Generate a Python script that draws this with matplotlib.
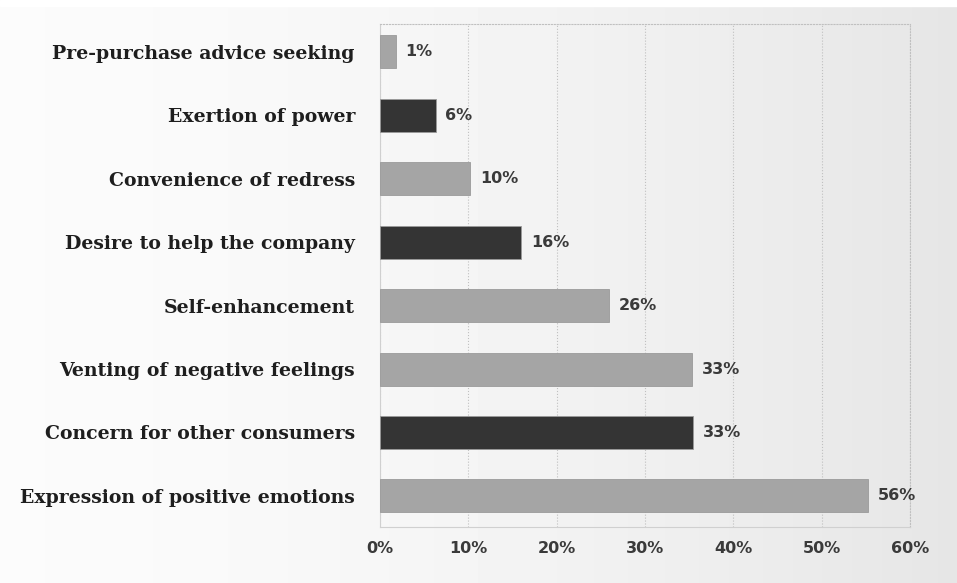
import numpy as np
import matplotlib
matplotlib.use('Agg')
import matplotlib.pyplot as plt

# data, top to bottom as in the picture
categories = ['Pre-purchase advice seeking', 'Exertion of power', 'Convenience of redress',
              'Desire to help the company', 'Self-enhancement', 'Venting of negative feelings',
              'Concern for other consumers', 'Expression of positive emotions']
bar_len    = [1.8, 6.3, 10.2, 16.0, 25.9, 35.3, 35.4, 55.3]
val_labels = ['1%', '6%', '10%', '16%', '26%', '33%', '33%', '56%']
shade      = ['light', 'dark', 'light', 'dark', 'light', 'light', 'dark', 'light']
ticks      = [0, 10, 20, 30, 40, 50, 60]

colmap = {'light': '#a5a5a5', 'dark': '#343434'}

fig = plt.figure(figsize=(9.57, 5.83), dpi=100)

# background gradient
bg = fig.add_axes([0, 0, 1, 1])
gx = np.linspace(0, 1, 256)
grad = 0.985 - 0.085 * gx**1.6
bg.imshow(np.tile(grad, (16, 1)), cmap='gray', vmin=0, vmax=1, aspect='auto',
          extent=[0, 1, 0, 1], origin='lower')
bg.axis('off')
# thin white strip at the very top (cropped caption area)
bg.add_patch(plt.Rectangle((0, 1 - 6 / 583), 1, 6 / 583, color='white', transform=bg.transAxes))

W, H = 957, 583
x0, x1 = 380, 910
y0, y1 = 24, 527
ax = fig.add_axes([x0 / W, 1 - y1 / H, (x1 - x0) / W, (y1 - y0) / H])
ax.patch.set_alpha(0)

n = len(categories)
ypos = np.arange(n)[::-1]
ax.barh(ypos, bar_len, height=0.52, color=[colmap[s] for s in shade],
        edgecolor='#9a9a9a', linewidth=0.6, zorder=3)

for yy, v, lab in zip(ypos, bar_len, val_labels):
    ax.annotate(lab, (v, yy), xytext=(7, 0), textcoords='offset points',
                va='center', ha='left', fontsize=11.5, fontweight='bold',
                color='#3a3a3a', family='DejaVu Sans')

ax.set_xlim(0, 60)
ax.set_ylim(-0.49, n - 1 + 0.44)
ax.set_xticks(ticks)
ax.set_xticklabels([f'{t}%' for t in ticks], fontsize=11.5, fontweight='bold',
                   color='#3a3a3a', family='DejaVu Sans')
ax.set_yticks(ypos)
ax.set_yticklabels(categories, fontsize=13.6, fontweight='bold', color='#1e1e1e',
                   family='DejaVu Serif')
ax.tick_params(axis='y', length=0, pad=18)
ax.tick_params(axis='x', length=0, pad=10)

ax.grid(axis='x', ls=':', lw=0.8, color='#c0c0c0', zorder=0)
for side in ['top', 'right']:
    ax.spines[side].set_linestyle(':')
    ax.spines[side].set_color('#c0c0c0')
    ax.spines[side].set_linewidth(0.8)
ax.spines['bottom'].set_color('#d0d0d0')
ax.spines['left'].set_color('#d0d0d0')

fig.savefig('out.png', dpi=100)
